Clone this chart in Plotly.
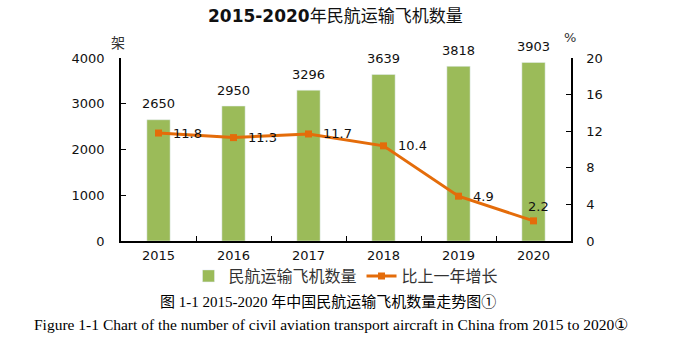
import plotly.graph_objects as go

years = ["2015", "2016", "2017", "2018", "2019", "2020"]
aircraft = [2650, 2950, 3296, 3639, 3818, 3903]
growth = [11.8, 11.3, 11.7, 10.4, 4.9, 2.2]

bar_name = "民航运输飞机数量"
line_name = "比上一年增长"
title_num = "2015-2020"
title_txt = "年民航运输飞机数量"
cap_cn = "图 1-1 2015-2020 年中国民航运输飞机数量走势图①"
cap_en = "Figure 1-1 Chart of the number of civil aviation transport aircraft in China from 2015 to 2020①"

NUM = "DejaVu Sans, Verdana, sans-serif"
CJK = "Noto Sans CJK SC, sans-serif"
GREEN = "#9BBB59"
ORANGE = "#E46C0A"
TXT = "#111111"

fig = go.Figure()
fig.add_trace(go.Bar(
    x=years, y=aircraft, name=bar_name, marker_color=GREEN,
))
fig.add_trace(go.Scatter(
    x=years, y=growth, name=line_name, yaxis="y2", mode="lines+markers",
    line=dict(color=ORANGE, width=3), marker=dict(symbol="square", size=7, color=ORANGE),
    cliponaxis=False,
))

L, R, T, B = 121, 121, 58, 102
W, H = 692, 343
pw, ph = W - L - R, H - T - B


def px(x):
    return (x - L) / pw


def py(y):
    return (H - B - y) / ph


def ann(text, x, y, font):
    return dict(text=text, x=px(x), y=py(y), xref="paper", yref="paper", showarrow=False,
                xanchor="center", yanchor="middle", font=font)


anns = [
    ann(f"<b>{title_num}</b><span style='font-family:Noto Sans CJK SC'>{title_txt}</span>", 335, 15,
        dict(family=NUM, size=17, color=TXT)),
    ann("架", 118, 42, dict(family=CJK, size=14, color="#333")),
    ann("%", 570, 37, dict(family=NUM, size=13, color="#333")),
    ann(cap_cn, 328, 302, dict(family="Liberation Serif, " + CJK, size=15, color="black")),
    ann(cap_en, 331, 324, dict(family="Liberation Serif, serif", size=15.5, color="black")),
]
# bar value labels (x given as category index)
for i, v in enumerate(aircraft):
    anns.append(dict(text=str(v), x=i, y=v, xref="x", yref="y", showarrow=False,
                     xanchor="center", yanchor="middle", yshift=16,
                     font=dict(family=NUM, size=13, color=TXT)))
# line value labels
for i, g in enumerate(growth):
    if i == len(growth) - 1:
        anns.append(dict(text=str(g), x=i, y=g, xref="x", yref="y2", showarrow=False,
                         xanchor="center", yanchor="middle", xshift=5, yshift=14,
                         font=dict(family=NUM, size=13, color=TXT)))
    else:
        anns.append(dict(text=str(g), x=i, y=g, xref="x", yref="y2", showarrow=False,
                         xanchor="left", yanchor="middle", xshift=12,
                         font=dict(family=NUM, size=13, color=TXT)))

fig.update_layout(
    width=W, height=H,
    margin=dict(l=L, r=R, t=T, b=B),
    paper_bgcolor="white", plot_bgcolor="white",
    bargap=0.69,
    showlegend=True,
    legend=dict(orientation="h", x=0.5, xanchor="center", y=py(276), yanchor="middle",
                bgcolor="rgba(0,0,0,0)",
                font=dict(family=CJK, size=16, color="#333"), itemwidth=30, tracegroupgap=0),
    xaxis=dict(type="category", categoryarray=years, categoryorder="array",
               range=[-0.5, len(years) - 0.5], showline=True, linecolor="black", linewidth=1.5,
               ticks="inside", tickson="boundaries", ticklen=5, tickcolor="black",
               tickfont=dict(family=NUM, size=13, color=TXT), showgrid=False,
               ticklabelstandoff=2),
    yaxis=dict(range=[0, 4000], dtick=1000, showline=True, linecolor="black", linewidth=1.5,
               ticks="inside", ticklen=5, tickcolor="black", showgrid=False, zeroline=False,
               tickfont=dict(family=NUM, size=13, color=TXT), ticklabelstandoff=12),
    yaxis2=dict(range=[0, 20], dtick=4, overlaying="y", side="right", showline=True,
                linecolor="black", linewidth=1.5, ticks="inside", ticklen=5, tickcolor="black",
                showgrid=False, zeroline=False, tickfont=dict(family=NUM, size=13, color=TXT),
                ticklabelstandoff=11),
    annotations=anns,
)

fig.write_html("out.html")
